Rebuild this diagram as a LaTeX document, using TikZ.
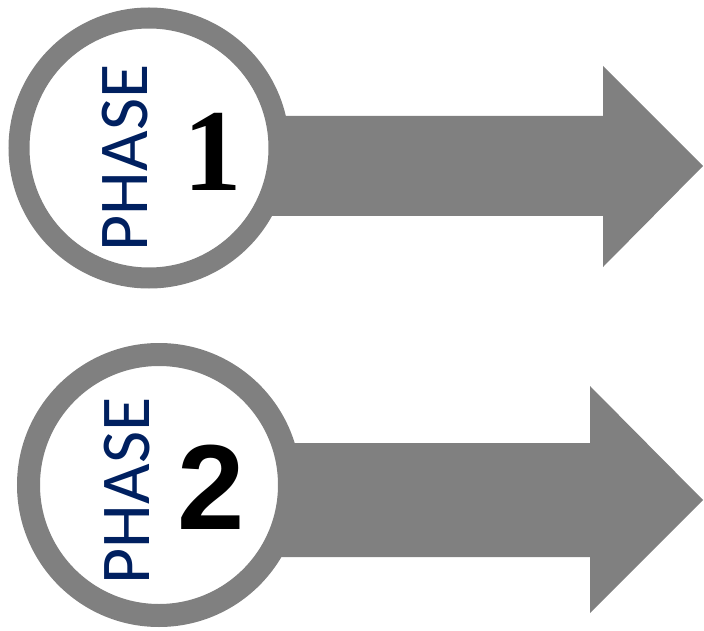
\documentclass[tikz,border=0pt]{standalone}
\usepackage{fontspec}
\newfontfamily\phasefont{Carlito}
\newfontfamily\numserif{Liberation Serif}
\newfontfamily\numsans{Liberation Sans}
\definecolor{ringgray}{RGB}{128,128,128}
\definecolor{phasenavy}{RGB}{0,32,96}

\begin{document}
\begin{tikzpicture}[x=1pt, y=-1pt]
		\tikzset{ring/.style={circle, draw=ringgray, fill=white, inner sep=0pt},
			blockarrow/.style={fill=ringgray, draw=none},
			phase/.style={rotate=90, inner sep=0pt, text=phasenavy, font=\phasefont\fontsize{70}{70}\selectfont},
			num/.style={inner sep=0pt, text=black}};

		\useasboundingbox (0, 0) rectangle (704, 631);

		% phase 1
		\coordinate (c1) at (149, 148);
		\coordinate (tip1) at (703, 166);
		\fill[blockarrow] (c1 |- 0, 116) -- (603, 116) -- (603, 66) -- (tip1)
			-- (603, 267) -- (603, 216) -- (c1 |- 0, 216) -- cycle;
		\node[ring, line width=21pt, minimum size=260pt] (r1) at (c1) {};
		\node[phase] (p1) at (125.5, 158) {PHASE};
		\node[num, font=\numserif\bfseries\fontsize{117}{117}\selectfont] (n1) at (213, 152) {1};

		% phase 2
		\coordinate (c2) at (159, 485);
		\coordinate (tip2) at (703, 500);
		\fill[blockarrow] (c2 |- 0, 443) -- (590, 443) -- (590, 386) -- (tip2)
			-- (590, 613) -- (590, 557) -- (c2 |- 0, 557) -- cycle;
		\node[ring, line width=23pt, minimum size=261pt] (r2) at (c2) {};
		\node[phase] (p2) at (127, 491) {PHASE};
		\node[num, font=\numsans\bfseries\fontsize{121}{121}\selectfont] (n2) at (211, 487) {2};

	\end{tikzpicture}
\end{document}
